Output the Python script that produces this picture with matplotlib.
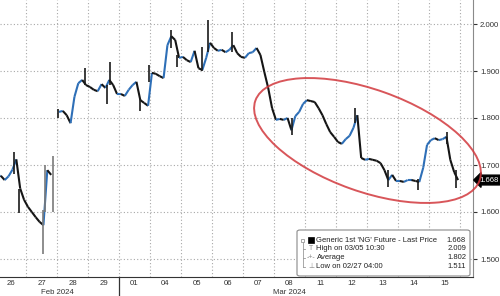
import numpy as np
import matplotlib.pyplot as plt
import matplotlib.transforms as mtransforms
from matplotlib.patches import Ellipse, FancyBboxPatch, Rectangle
from matplotlib.collections import LineCollection
from matplotlib.lines import Line2D

plt.rcParams['font.family'] = ['Liberation Sans', 'DejaVu Sans']

# trading days shown on the x axis
day_labels = ["26", "27", "28", "29", "01", "04", "05", "06", "07",
              "08", "11", "12", "13", "14", "15"]
month_labels = ["Feb 2024", "Mar 2024"]
bars_per_day = 8

# Generic 1st 'NG' future, intraday closes (8 per trading day)
close = [
    1.675, 1.677, 1.668, 1.676, 1.690, 1.712, 1.650, 1.626,     # 26 Feb
    1.611, 1.600, 1.589, 1.579, 1.572, 1.689, 1.679, np.nan,    # 27 Feb
    1.813, 1.815, 1.806, 1.789, 1.845, 1.874, 1.881, 1.870,     # 28 Feb
    1.866, 1.860, 1.857, 1.872, 1.864, 1.881, 1.870, 1.851,     # 29 Feb
    1.851, 1.847, 1.860, 1.870, 1.877, 1.838, 1.832, 1.826,     # 01 Mar
    1.896, 1.894, 1.889, 1.885, 1.955, 1.974, 1.966, 1.928,     # 04 Mar
    1.930, 1.923, 1.919, 1.943, 1.906, 1.902, 1.928, 1.960,     # 05 Mar
    1.949, 1.943, 1.945, 1.940, 1.945, 1.955, 1.938, 1.930,     # 06 Mar
    1.928, 1.938, 1.940, 1.949, 1.934, 1.898, 1.864, 1.821,     # 07 Mar
    1.796, 1.798, 1.796, 1.800, 1.774, 1.804, 1.813, 1.830,     # 08 Mar
    1.838, 1.836, 1.834, 1.821, 1.806, 1.787, 1.770, 1.760,     # 11 Mar
    1.749, 1.745, 1.755, 1.762, 1.779, 1.806, 1.715, 1.711,     # 12 Mar
    1.713, 1.711, 1.709, 1.704, 1.689, 1.668, 1.679, 1.666,     # 13 Mar
    1.666, 1.664, 1.668, 1.668, 1.666, 1.664, 1.694, 1.743,     # 14 Mar
    1.753, 1.757, 1.753, 1.755, 1.760, 1.711, 1.685, 1.668,     # 15 Mar
]

# single bars that stick out of the trace (time in trading days)
spike_t = [0.61, 0.77, 1.55, 1.61, 1.87, 2.02, 2.90, 3.61, 3.71, 4.68,
           4.98, 5.68, 5.87, 6.68, 6.87, 7.65, 9.58, 11.61, 12.68, 13.65,
           14.58, 14.87]
spike_lo = [1.680, 1.598, 1.511, 1.600, 1.600, 1.800, 1.870, 1.830, 1.870, 1.815,
            1.876, 1.950, 1.909, 1.900, 1.940, 1.940, 1.764, 1.790, 1.653, 1.647,
            1.745, 1.651]
spike_hi = [1.728, 1.650, 1.604, 1.700, 1.720, 1.820, 1.906, 1.870, 1.919, 1.840,
            1.913, 1.987, 1.935, 1.951, 2.009, 1.983, 1.800, 1.821, 1.690, 1.670,
            1.770, 1.690]
spike_grey = [False, False, True, True, True, False, False, False, False, False,
              False, False, False, False, False, False, False, False, False, False,
              False, False]

y_ticks = [1.5, 1.6, 1.7, 1.8, 1.9, 2.0]
last_price = 1.668

legend_labels = ["Generic 1st 'NG' Future - Last Price", "High on 03/05 10:30",
                 "Average", "Low on 02/27 04:00"]
legend_values = ["1.668", "2.009", "1.802", "1.511"]

W, H = 500, 296
fig = plt.figure(figsize=(W / 100, H / 100), dpi=100)
ax = fig.add_axes([0, 19 / H, 473 / W, 277 / H])


def fx(px):
    return px / W


def fy(py):
    return 1 - py / H


close = np.array(close)
t = np.arange(len(close)) / bars_per_day + 0.5 / bars_per_day

# trace: up moves blue, down moves black
segs, cols = [], []
for i in range(len(close) - 1):
    if np.isnan(close[i]) or np.isnan(close[i + 1]):
        continue
    segs.append([(t[i], close[i]), (t[i + 1], close[i + 1])])
    cols.append('#2e6fb7' if close[i + 1] >= close[i] else '#151515')
ax.add_collection(LineCollection(segs, colors=cols, linewidths=1.5, zorder=3))

for st, lo, hi, g in zip(spike_t, spike_lo, spike_hi, spike_grey):
    ax.vlines(st, lo, hi, color='#7a7a7a' if g else '#1a1a1a', lw=1.2, zorder=3)

ax.set_xlim(5 / 31, 478 / 31)
ax.set_ylim(2.0 - 253 / 470, 2.0 + 24 / 470)

# axes styling
ax.yaxis.tick_right()
ax.set_yticks(y_ticks)
ax.set_yticklabels([f"{v:.3f}" for v in y_ticks])
ax.tick_params(axis='y', length=3, width=0.8, pad=2, labelsize=5.6,
               colors='#333333', direction='out')
ax.set_xticks(np.arange(len(day_labels)) + 0.5)
ax.set_xticklabels(day_labels)
ax.set_xticks(np.arange(1, len(day_labels) + 1), minor=True)
ax.tick_params(axis='x', which='both', length=0, pad=2.5, labelsize=5.6,
               colors='#333333')
ax.grid(which='minor', axis='x', color='#a8a8a8', lw=0.8, ls=(0, (1, 2)))
ax.grid(which='major', axis='y', color='#a8a8a8', lw=0.8, ls=(0, (1, 2)))
ax.grid(which='major', axis='x', visible=False)
for s in ['left', 'top']:
    ax.spines[s].set_visible(False)
ax.spines['right'].set_color('#8a8a8a')
ax.spines['right'].set_linewidth(0.8)
ax.spines['bottom'].set_color('#333333')
ax.spines['bottom'].set_linewidth(0.8)

# month separator and month labels
trans = mtransforms.blended_transform_factory(ax.transData, ax.transAxes)
ax.plot([4, 4], [0, -19 / 277], transform=trans, color='#333333', lw=0.9,
        clip_on=False)
ax.text(2.0, -15 / 277, month_labels[0], transform=trans, ha='center',
        va='center', fontsize=5.6, color='#333333')
ax.text(9.5, -15 / 277, month_labels[1], transform=trans, ha='center',
        va='center', fontsize=5.6, color='#333333')

# last price tag
trans_y = mtransforms.blended_transform_factory(ax.transAxes, ax.transData)
ax.text(1 + 6 / 473, last_price, f"{last_price:.3f}", transform=trans_y,
        ha='left', va='center', fontsize=5.6, color='white', clip_on=False,
        bbox=dict(boxstyle='larrow,pad=0.18', fc='black', ec='black'))

# red ellipse
fig.add_artist(Ellipse((3.675, (H - 140.5) / 100), 2.38, 1.02, angle=-19.6,
                       transform=fig.dpi_scale_trans, fill=False,
                       ec='#d2383d', lw=1.4, alpha=0.85, zorder=5))

# legend box
fig.add_artist(FancyBboxPatch((fx(297), fy(276)), fx(470) - fx(297),
                              fy(230) - fy(276),
                              boxstyle='round,pad=0,rounding_size=0.006',
                              transform=fig.transFigure, fc='white',
                              ec='#8a8a8a', lw=0.8, zorder=6))
rows = [240, 248.5, 257.5, 266.5]
fig.add_artist(Line2D([fx(302.5)] * 2, [fy(242), fy(266.5)],
                      transform=fig.transFigure, color='#9a9a9a', lw=0.6, zorder=7))
for r in rows[1:]:
    fig.add_artist(Line2D([fx(302.5), fx(305)], [fy(r)] * 2,
                          transform=fig.transFigure, color='#9a9a9a', lw=0.6, zorder=7))
fig.add_artist(Rectangle((fx(301), fy(241.5)), fx(3), 3 / H, transform=fig.transFigure,
                         fc='white', ec='#9a9a9a', lw=0.6, zorder=7))
fig.add_artist(Rectangle((fx(308), fy(243)), fx(6), 6 / H, transform=fig.transFigure,
                         fc='black', ec='black', lw=0.5, zorder=7))
for sym, r in zip(["T", "-+-", "\u22a5"], rows[1:]):
    fig.text(fx(311), fy(r), sym, ha='center', va='center', fontsize=5.0,
             color='#8a8a8a', zorder=7)
for lab, val, r in zip(legend_labels, legend_values, rows):
    fig.text(fx(316.5), fy(r), lab, ha='left', va='center', fontsize=5.5,
             color='#222222', zorder=7)
    fig.text(fx(466), fy(r), val, ha='right', va='center', fontsize=5.5,
             color='#222222', zorder=7)

fig.savefig("out.png", dpi=100)
